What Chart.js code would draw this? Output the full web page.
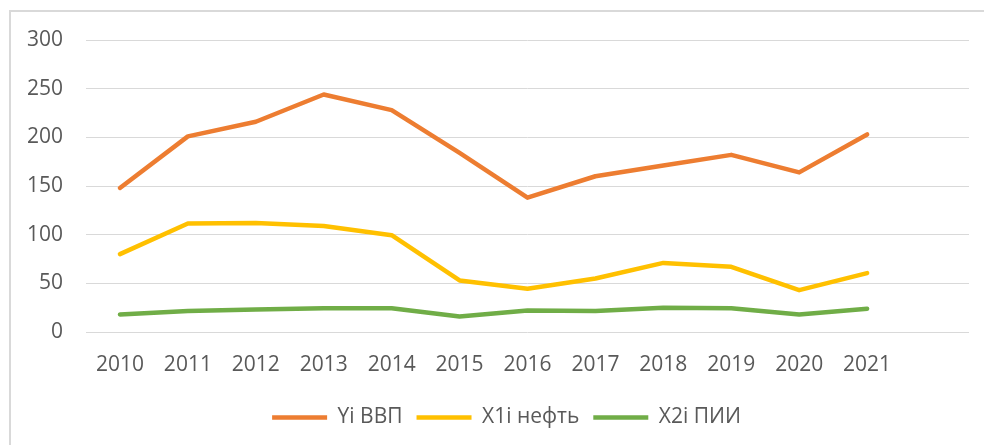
<!DOCTYPE html>
<html>
<head>
<meta charset="utf-8">
<script src="https://cdn.jsdelivr.net/npm/chart.js@4/dist/chart.umd.min.js"></script>
<style>
  html, body { margin: 0; padding: 0; background: #fff; }
  #frame {
    position: absolute; left: 9px; top: 10px; width: 975px; height: 435px;
    border-left: 2px solid #d9d9d9; border-top: 2px solid #d9d9d9;
    box-sizing: border-box;
  }
  #wrap { position: absolute; left: 0; top: 0; width: 984px; height: 445px; }
</style>
</head>
<body>
<div id="frame"></div>
<div id="wrap"><canvas id="trend-chart"></canvas></div>
<script>
// years, with an empty slot at the end of the range
const years = ['2010', '2011', '2012', '2013', '2014', '2015', '2016', '2017', '2018', '2019', '2020', '2021', ''];
const gdp = [148, 201, 216, 244, 228, 184, 138, 160, 171, 182, 164, 203, null];
const oil = [80, 111.5, 112, 109, 99.5, 53, 44.5, 55, 71, 67, 43, 60.5, null];
const fdi = [18, 21.5, 23, 24.5, 24.5, 16, 22, 21.5, 25, 24.5, 18, 24, null];
const yTicks = [0, 50, 100, 150, 200, 250, 300];

const textColor = '#595959';
const gridColor = '#d9d9d9';

function makeSeries(label, values, color) {
    return {
        label: label,
        data: values,
        borderColor: color,
        backgroundColor: color,
        borderWidth: 4.5,
        borderCapStyle: 'round',
        borderJoinStyle: 'round',
        pointRadius: 0,
        pointHoverRadius: 0,
        tension: 0,
        fill: false
    };
}

// nudge the legend a bit to the right, under the middle of the plot
const legendShift = {
    id: 'legendShift',
    afterLayout(chart) {
        if (chart.legend) {
            chart.legend.left += 22;
            chart.legend.right += 22;
        }
    }
};

function createChart() {
    const ctx = document.getElementById('trend-chart').getContext('2d');

    new Chart(ctx, {
        type: 'line',
        data: {
            labels: years,
            datasets: [
                makeSeries('Yi ВВП', gdp, '#ed7d31'),
                makeSeries('X1i нефть', oil, '#ffc000'),
                makeSeries('X2i ПИИ', fdi, '#70ad47')
            ]
        },
        options: {
            responsive: true,
            maintainAspectRatio: false,
            animation: false,
            devicePixelRatio: 1,
            layout: {
                padding: { left: 0, right: 15, top: 40, bottom: 7 }
            },
            font: { family: '"Open Sans", sans-serif', size: 21 },
            plugins: {
                tooltip: { enabled: false },
                legend: {
                    position: 'bottom',
                    labels: {
                        usePointStyle: true,
                        pointStyle: 'line',
                        pointStyleWidth: 55,
                        color: textColor,
                        padding: 14,
                        font: { family: '"Open Sans", sans-serif', size: 21 }
                    }
                }
            },
            scales: {
                x: {
                    offset: true,
                    afterFit: axis => { axis.height = 61; },
                    grid: { display: false, drawTicks: false },
                    border: { display: false },
                    ticks: {
                        color: textColor,
                        padding: 20,
                        maxRotation: 0,
                        autoSkip: false,
                        font: { family: '"Open Sans", sans-serif', size: 21 }
                    }
                },
                y: {
                    min: 0,
                    max: 300,
                    afterFit: axis => { axis.width = 86; },
                    afterBuildTicks: axis => { axis.ticks = yTicks.map(v => ({ value: v })); },
                    grid: { color: gridColor, lineWidth: 1, drawTicks: false },
                    border: { display: false },
                    ticks: {
                        color: textColor,
                        padding: 23,
                        font: { family: '"Open Sans", sans-serif', size: 21 }
                    }
                }
            }
        },
        plugins: [legendShift]
    });
}

document.addEventListener('DOMContentLoaded', createChart);
</script>
</body>
</html>
